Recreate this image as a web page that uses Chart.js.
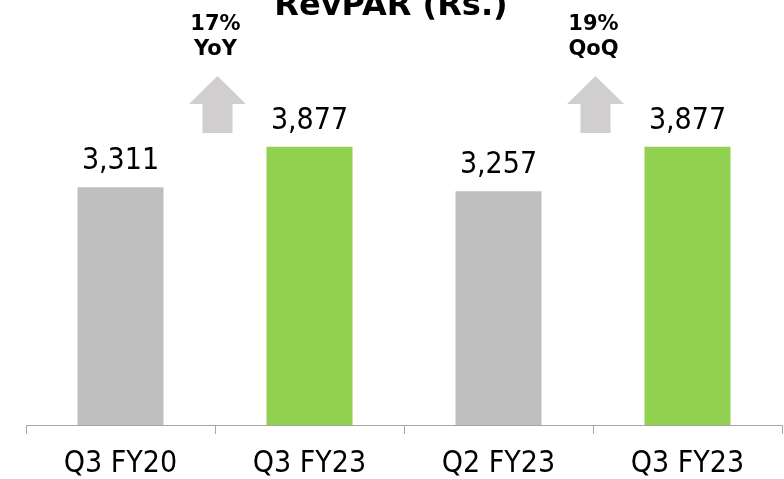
<!DOCTYPE html>
<html>
<head>
<meta charset="utf-8">
<script src="https://cdn.jsdelivr.net/npm/chart.js@4"></script>
<style>
  html, body { margin: 0; padding: 0; background: #fff; }
  #wrap { width: 784px; height: 479px; }
</style>
</head>
<body>
<div id="wrap"><canvas id="revpar" width="784" height="479"></canvas></div>
<script>
const categories = ['Q3 FY20', 'Q3 FY23', 'Q2 FY23', 'Q3 FY23'];
const revpar = [3311, 3877, 3257, 3877];
const barColors = ['#BFBFBF', '#92D050', '#BFBFBF', '#92D050'];
const growthLabels = [['17%', 'YoY'], ['19%', 'QoQ']];
// arrows sit on the boundary after these bar indexes
const growthAfter = [0, 2];

const FONT = '"DejaVu Sans Condensed", "DejaVu Sans", Verdana, sans-serif';
const BOLD = '"DejaVu Sans", Verdana, sans-serif';

const overlay = {
  id: 'overlay',
  afterDatasetsDraw(chart) {
    const ctx = chart.ctx;
    const meta = chart.getDatasetMeta(0);
    ctx.save();

    // value labels
    ctx.fillStyle = '#000';
    ctx.font = '30px ' + FONT;
    ctx.textAlign = 'center';
    ctx.textBaseline = 'alphabetic';
    meta.data.forEach((bar, i) => {
      ctx.fillText(revpar[i].toLocaleString('en-US'), bar.x, bar.y - 18);
    });

    // title (clipped at top like the source)
    ctx.font = 'bold 32px ' + BOLD;
    ctx.fillText('RevPAR (Rs.)', 391, 15);

    // growth arrows + labels
    growthAfter.forEach((idx, k) => {
      const cx = (meta.data[idx].x + meta.data[idx + 1].x) / 2 + 2.5;
      ctx.fillStyle = '#D0CECE';
      ctx.beginPath();
      ctx.moveTo(cx, 76);
      ctx.lineTo(cx + 28.5, 104);
      ctx.lineTo(cx + 15, 104);
      ctx.lineTo(cx + 15, 133);
      ctx.lineTo(cx - 15, 133);
      ctx.lineTo(cx - 15, 104);
      ctx.lineTo(cx - 28.5, 104);
      ctx.closePath();
      ctx.fill();

      ctx.fillStyle = '#000';
      ctx.font = 'bold 21px ' + BOLD;
      ctx.textBaseline = 'alphabetic';
      ctx.fillText(growthLabels[k][0], cx - 2, 30);
      ctx.fillText(growthLabels[k][1], cx - 2, 55);
    });
    ctx.restore();
  }
};

new Chart(document.getElementById('revpar').getContext('2d'), {
  type: 'bar',
  data: {
    labels: categories,
    datasets: [{
      data: revpar,
      backgroundColor: barColors,
      borderWidth: 0,
      barPercentage: 0.455,
      categoryPercentage: 1
    }]
  },
  options: {
    responsive: false,
    animation: false,
    layout: { padding: { left: 26, right: 2, top: 102, bottom: -15 } },
    plugins: {
      legend: { display: false },
      title: { display: false },
      tooltip: { enabled: false }
    },
    scales: {
      y: {
        display: false,
        min: 0,
        max: 4500
      },
      x: {
        offset: true,
        grid: {
          offset: true,
          drawOnChartArea: false,
          drawTicks: true,
          tickLength: 9,
          color: '#A6A6A6'
        },
        border: { color: '#A6A6A6' },
        ticks: {
          color: '#000',
          font: { family: FONT, size: 30, lineHeight: 1 },
          padding: 15
        }
      }
    }
  },
  plugins: [overlay]
});
</script>
</body>
</html>
